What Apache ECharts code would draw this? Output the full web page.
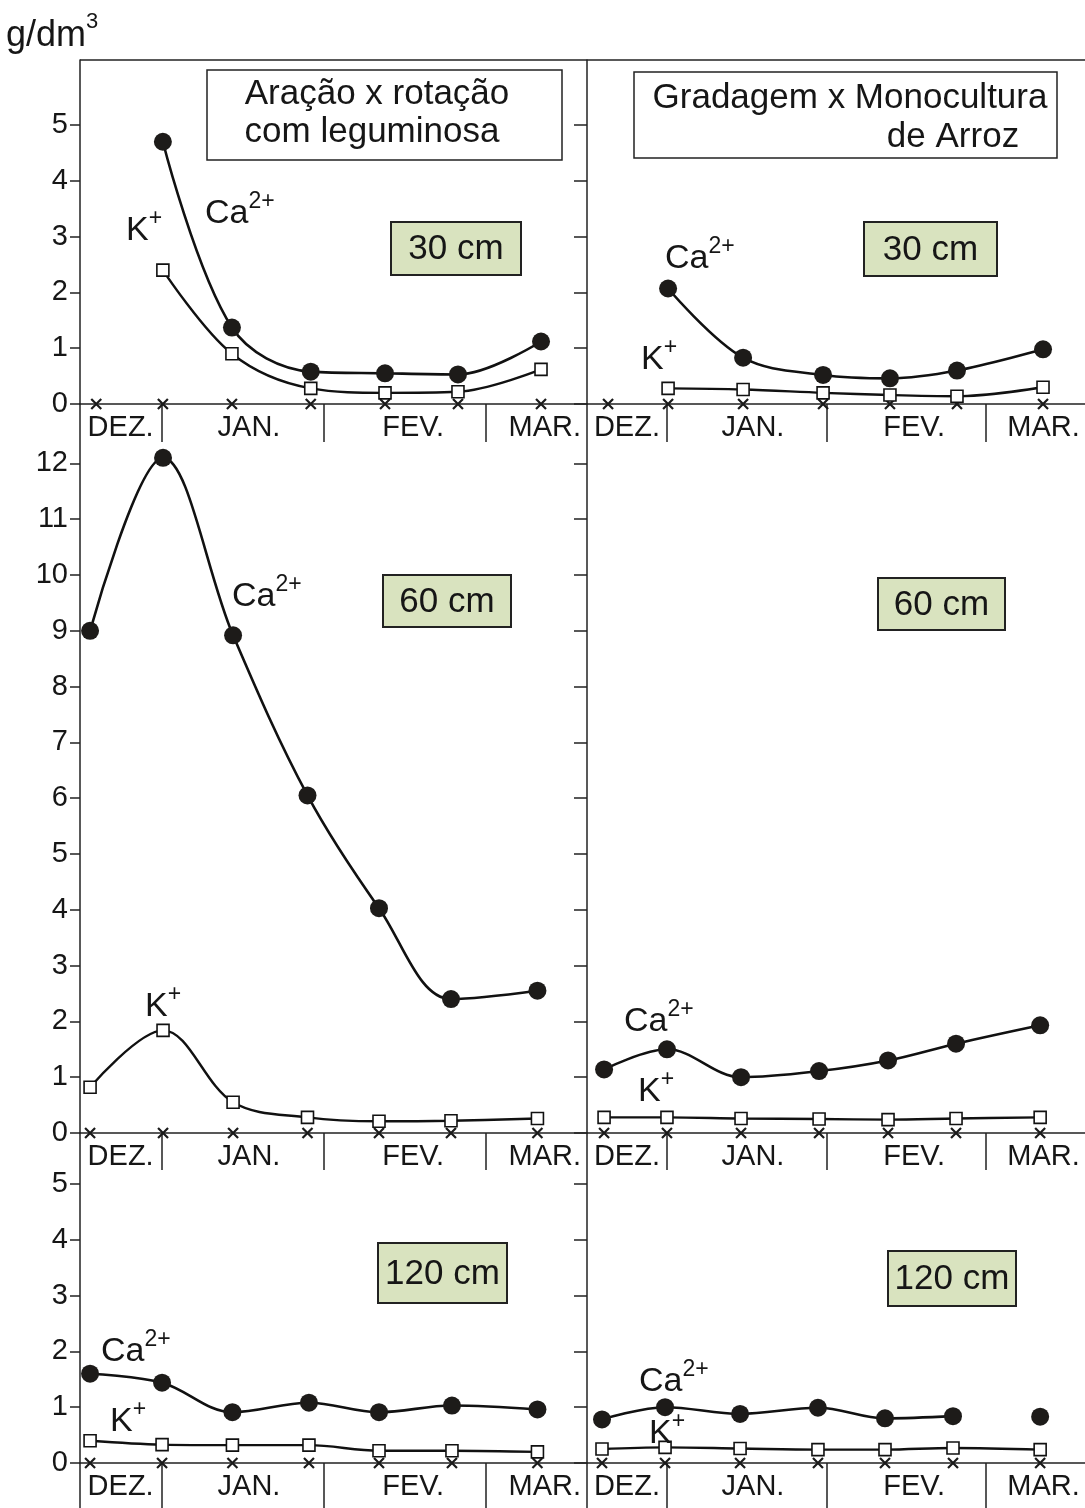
<!DOCTYPE html>
<html><head><meta charset="utf-8">
<script src="https://cdn.jsdelivr.net/npm/echarts@6/dist/echarts.min.js"></script>
<style>html,body{margin:0;padding:0;background:#fff}#c{width:1085px;height:1508px}</style>
</head><body><div id="c"></div>
<script>
// ---- Data (x in months from 1 Jan: 0 = Jan 1, 1 = Feb 1, 2 = Mar 1) ----
const monthNames = ['DEZ.', 'JAN.', 'FEV.', 'MAR.'];
const monthLabelPos = [-0.25, 0.54, 1.55, 2.36];
const monthStarts = [0, 1, 2];
const yTicks30 = [0, 1, 2, 3, 4, 5];
const yTicks60 = [0, 1, 2, 3, 4, 5, 6, 7, 8, 9, 10, 11, 12];
const yTicks120 = [0, 1, 2, 3, 4, 5];

// Aração x rotação com leguminosa
const sampleLT = [-0.40, 0.01, 0.435, 0.92, 1.377, 1.826, 2.337];
const caLT = [null, 4.7, 1.37, 0.58, 0.55, 0.53, 1.12];
const kLT = [null, 2.4, 0.9, 0.28, 0.2, 0.22, 0.62];

const sampleLM = [-0.438, 0.011, 0.442, 0.9, 1.34, 1.783, 2.315];
const caLM = [9.0, 12.1, 8.92, 6.05, 4.03, 2.4, 2.55];
const kLM = [0.82, 1.84, 0.55, 0.28, 0.21, 0.22, 0.26];

const sampleLB = [-0.438, 0.005, 0.438, 0.909, 1.34, 1.789, 2.315];
const caLB = [1.6, 1.44, 0.91, 1.08, 0.91, 1.03, 0.96];
const kLB = [0.4, 0.33, 0.32, 0.32, 0.22, 0.22, 0.2];

// Gradagem x Monocultura de Arroz
const sampleRT = [-0.368, 0.008, 0.478, 0.979, 1.398, 1.818, 2.357];
const caRT = [null, 2.07, 0.83, 0.52, 0.46, 0.6, 0.98];
const kRT = [null, 0.28, 0.26, 0.2, 0.16, 0.14, 0.3];

const sampleRM = [-0.393, 0.001, 0.465, 0.954, 1.386, 1.812, 2.339];
const caRM = [1.14, 1.5, 1.0, 1.11, 1.3, 1.6, 1.93];
const kRM = [0.28, 0.28, 0.26, 0.25, 0.24, 0.26, 0.28];

const sampleRB = [-0.406, -0.011, 0.459, 0.947, 1.367, 1.793, 2.339];
const caRB = [0.78, 1.0, 0.88, 0.99, 0.8, 0.84, 0.83];
const kRB = [0.25, 0.28, 0.26, 0.24, 0.24, 0.27, 0.24];
const caRBJoinedCount = 6; // last Ca point not joined by the line

// ---- Layout ----
const FONT = "'Liberation Sans', Arial, Helvetica, sans-serif";
const INK = '#161616';
const X_MIN = -0.5, X_MAX = 2.62;
const rows = [
  {top: 60, height: 344, yMin: 0, yMax: 6.165, ticks: yTicks30, divLen: 38},
  {top: 404, height: 729, yMin: 0, yMax: 13.065, ticks: yTicks60, divLen: 37},
  {top: 1133, height: 330, yMin: 0, yMax: 5.914, ticks: yTicks120, divLen: 45}
];
const cols = [
  {left: 80, width: 507, labels: true, tickLen: 10},
  {left: 587, width: 498, labels: false, tickLen: 13}
];
const panels = [
  {row: 0, col: 0, x: sampleLT, ca: caLT, k: kLT},
  {row: 0, col: 1, x: sampleRT, ca: caRT, k: kRT},
  {row: 1, col: 0, x: sampleLM, ca: caLM, k: kLM},
  {row: 1, col: 1, x: sampleRM, ca: caRM, k: kRM},
  {row: 2, col: 0, x: sampleLB, ca: caLB, k: kLB},
  {row: 2, col: 1, x: sampleRB, ca: caRB, k: kRB, caJoined: caRBJoinedCount}
];

const grid = [], xAxis = [], yAxis = [], series = [];
const pairs = (xs, ys, a, b) => xs.map((x, i) => [x, ys[i]]).slice(a, b).filter(p => p[1] != null);
const axisLineStyle = {color: '#222', width: 1.5};
const SMOOTH = 0.35;

panels.forEach((p, gi) => {
  const r = rows[p.row], c = cols[p.col];
  grid.push({left: c.left, top: r.top, width: c.width, height: r.height, containLabel: false, outerBoundsMode: 'none'});
  xAxis.push({
    gridIndex: gi, type: 'value', min: X_MIN, max: X_MAX,
    axisLine: {show: true, onZero: false, lineStyle: axisLineStyle},
    axisTick: {show: true, inside: false, length: r.divLen, customValues: monthStarts, lineStyle: axisLineStyle},
    axisLabel: {
      show: true, customValues: monthLabelPos, margin: 9, fontSize: 29, color: INK, fontFamily: FONT,
      formatter: v => { const i = monthLabelPos.findIndex(m => Math.abs(m - v) < 1e-6); return i >= 0 ? monthNames[i] : ''; }
    },
    splitLine: {show: false}
  });
  yAxis.push({
    gridIndex: gi, type: 'value', min: r.yMin, max: r.yMax,
    axisLine: {show: true, onZero: false, lineStyle: axisLineStyle},
    axisTick: {show: true, inside: false, length: c.tickLen, customValues: r.ticks, lineStyle: axisLineStyle},
    axisLabel: {show: c.labels, customValues: r.ticks, margin: 12, fontSize: 29, color: INK, fontFamily: FONT},
    splitLine: {show: false}
  });
  // x markers on the zero line
  series.push({
    type: 'scatter', xAxisIndex: gi, yAxisIndex: gi, z: 2,
    symbol: 'path://M0,0L10,10M10,0L0,10', symbolSize: 10,
    itemStyle: {color: '#1a1a1a', borderColor: '#1a1a1a', borderWidth: 2.2, opacity: 1},
    data: p.x.map(x => [x, 0])
  });
  const joined = p.caJoined != null ? p.caJoined : p.x.length;
  series.push({
    type: 'line', name: 'Ca2+', xAxisIndex: gi, yAxisIndex: gi, z: 3,
    smooth: SMOOTH, symbol: 'circle', symbolSize: 18, showSymbol: true,
    itemStyle: {color: '#1d1b19', opacity: 1}, lineStyle: {color: '#111', width: 2.6},
    data: pairs(p.x, p.ca, 0, joined)
  });
  if (joined < p.x.length) {
    series.push({
      type: 'scatter', name: 'Ca2+', xAxisIndex: gi, yAxisIndex: gi, z: 3,
      symbol: 'circle', symbolSize: 18, itemStyle: {color: '#1d1b19', opacity: 1},
      data: pairs(p.x, p.ca, joined, p.x.length)
    });
  }
  series.push({
    type: 'line', name: 'K+', xAxisIndex: gi, yAxisIndex: gi, z: 4,
    smooth: SMOOTH, symbol: 'rect', symbolSize: 12, showSymbol: true,
    itemStyle: {color: '#fff', borderColor: '#111', borderWidth: 1.6, opacity: 1}, lineStyle: {color: '#111', width: 2.4},
    data: pairs(p.x, p.k, 0, p.x.length)
  });
});

// ---- Frame and annotations ----
const graphic = [];
const frameStyle = {stroke: '#222', lineWidth: 1.5};
graphic.push({type: 'line', shape: {x1: 80, y1: 60, x2: 1085, y2: 60}, style: frameStyle, z: 10});
graphic.push({type: 'line', shape: {x1: 80, y1: 1463, x2: 80, y2: 1508}, style: frameStyle, z: 10});
graphic.push({type: 'line', shape: {x1: 587, y1: 1463, x2: 587, y2: 1508}, style: frameStyle, z: 10});
const ionRich = (big, sup) => ({
  text: '{b|' + big + '}{s|' + sup + '}',
  rich: {
    b: {fontSize: 34, fontFamily: FONT, fill: INK, lineHeight: 48},
    s: {fontSize: 23, fontFamily: FONT, fill: INK, verticalAlign: 'top'}
  },
  align: 'left', verticalAlign: 'middle'
});
graphic.push({type: 'text', x: 6, y: 36, style: {
  text: '{b|g/dm}{s|3}',
  rich: {b: {fontSize: 36, fontFamily: FONT, fill: INK, lineHeight: 50}, s: {fontSize: 22, fontFamily: FONT, fill: INK, verticalAlign: 'top'}},
  align: 'left', verticalAlign: 'middle'}, z: 10});

// title boxes
graphic.push({type: 'rect', shape: {x: 207, y: 70, width: 355, height: 90}, style: {fill: '#fff', stroke: '#222', lineWidth: 1.5}, z: 10});
graphic.push({type: 'text', x: 377, y: 94, style: {text: 'Aração x rotação', fontSize: 35, fontFamily: FONT, fill: INK, align: 'center', verticalAlign: 'middle'}, z: 11});
graphic.push({type: 'text', x: 372, y: 132, style: {text: 'com leguminosa', fontSize: 35, fontFamily: FONT, fill: INK, align: 'center', verticalAlign: 'middle'}, z: 11});
graphic.push({type: 'rect', shape: {x: 634, y: 72, width: 423, height: 86}, style: {fill: '#fff', stroke: '#222', lineWidth: 1.5}, z: 10});
graphic.push({type: 'text', x: 850, y: 98, style: {text: 'Gradagem x Monocultura', fontSize: 35, fontFamily: FONT, fill: INK, align: 'center', verticalAlign: 'middle'}, z: 11});
graphic.push({type: 'text', x: 953, y: 137, style: {text: 'de Arroz', fontSize: 35, fontFamily: FONT, fill: INK, align: 'center', verticalAlign: 'middle'}, z: 11});

// depth boxes
const depthBoxes = [
  [391, 222, 130, 53, '30 cm'], [864, 222, 133, 54, '30 cm'],
  [383, 575, 128, 52, '60 cm'], [878, 578, 127, 52, '60 cm'],
  [378, 1243, 129, 60, '120 cm'], [888, 1251, 128, 55, '120 cm']
];
depthBoxes.forEach(([x, y, w, h, t]) => {
  graphic.push({type: 'rect', shape: {x, y, width: w, height: h}, style: {fill: '#d9e3bf', stroke: '#222', lineWidth: 2}, z: 10});
  graphic.push({type: 'text', x: x + w / 2, y: y + h / 2 + 1, style: {text: t, fontSize: 35, fontFamily: FONT, fill: INK, align: 'center', verticalAlign: 'middle'}, z: 11});
});

// ion labels
const ionLabels = [
  [126, 231, 'K', '+'], [205, 214, 'Ca', '2+'],
  [665, 259, 'Ca', '2+'], [641, 360, 'K', '+'],
  [232, 597, 'Ca', '2+'], [145, 1007, 'K', '+'],
  [624, 1022, 'Ca', '2+'], [638, 1092, 'K', '+'],
  [101, 1352, 'Ca', '2+'], [110, 1422, 'K', '+'],
  [639, 1382, 'Ca', '2+'], [649, 1434, 'K', '+']
];
ionLabels.forEach(([x, y, b, s]) => {
  graphic.push({type: 'text', x, y, style: ionRich(b, s), z: 11});
});

const chart = echarts.init(document.getElementById('c'), null, {renderer: 'canvas'});
chart.setOption({
  animation: false,
  backgroundColor: '#fff',
  grid, xAxis, yAxis, series, graphic
});
</script></body></html>
